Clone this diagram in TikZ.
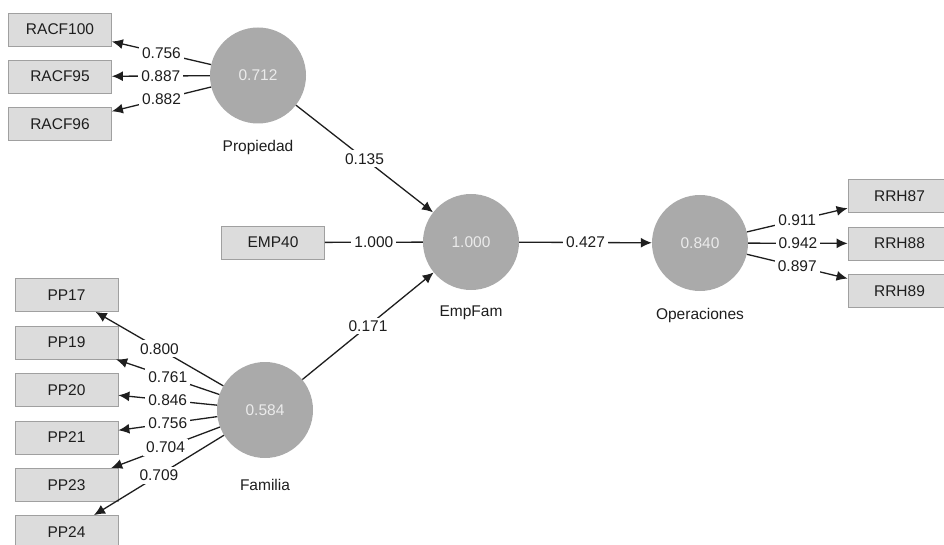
\documentclass[tikz,border=0pt]{standalone}
\usepackage{fontspec}
\setmainfont{Liberation Sans}
\usetikzlibrary{arrows.meta}

\definecolor{latentgray}{RGB}{170,170,170}
\definecolor{latenttext}{RGB}{235,235,235}
\definecolor{boxfill}{RGB}{220,220,220}
\definecolor{boxline}{RGB}{160,160,160}
\definecolor{inkgray}{RGB}{30,30,30}

\begin{document}
\begin{tikzpicture}[x=1pt,y=-1pt,
    every node/.style={font=\fontsize{15.5}{17}\selectfont, text=inkgray},
    indicator/.style={draw=boxline, fill=boxfill, line width=0.8pt, minimum width=103pt, minimum height=33pt, inner sep=0pt},
    latent/.style={circle, fill=latentgray, minimum size=96pt, inner sep=0pt, text=latenttext},
    link/.style={draw=inkgray, line width=1.3pt, -{Latex[length=11pt,width=10pt]}},
    coef/.style={fill=white, inner sep=3pt, pos=0.5}]
    \useasboundingbox (0,0) rectangle (944,545);

    % Indicators of Propiedad
    \node[indicator] (racf100) at (60,29.5) {RACF100};
    \node[indicator] (racf95) at (60,76.5) {RACF95};
    \node[indicator] (racf96) at (60,124) {RACF96};

    % Indicators of Familia
    \node[indicator] (pp17) at (66.5,295) {PP17};
    \node[indicator] (pp19) at (66.5,342.5) {PP19};
    \node[indicator] (pp20) at (66.5,390) {PP20};
    \node[indicator] (pp21) at (66.5,437.5) {PP21};
    \node[indicator] (pp23) at (66.5,485) {PP23};
    \node[indicator] (pp24) at (66.5,532) {PP24};

    % Other indicators
    \node[indicator] (emp40) at (273,242.5) {EMP40};
    \node[indicator] (rrh87) at (899.5,196) {RRH87};
    \node[indicator] (rrh88) at (899.5,243.5) {RRH88};
    \node[indicator] (rrh89) at (899.5,291) {RRH89};

    % Latent variables
    \node[latent] (prop) at (258,75.5) {0.712};
    \node (propname) at (258,147) {Propiedad};
    \node[latent] (fam) at (265,410) {0.584};
    \node (famname) at (265,485) {Familia};
    \node[latent] (empfam) at (471,242) {1.000};
    \node (empfamname) at (471,313) {EmpFam};
    \node[latent] (oper) at (700,243) {0.840};
    \node (opername) at (700,315) {Operaciones};

    % Outer loadings
    \draw[link] (prop) -- node[coef] {0.756} (racf100);
    \draw[link] (prop) -- node[coef] {0.887} (racf95);
    \draw[link] (prop) -- node[coef] {0.882} (racf96);

    \draw[link] (fam) -- node[coef] {0.800} (pp17);
    \draw[link] (fam) -- node[coef] {0.761} (pp19);
    \draw[link] (fam) -- node[coef] {0.846} (pp20);
    \draw[link] (fam) -- node[coef] {0.756} (pp21);
    \draw[link] (fam) -- node[coef] {0.704} (pp23);
    \draw[link] (fam) -- node[coef] {0.709} (pp24);

    \draw[draw=inkgray, line width=1.3pt] (emp40) -- node[coef] {1.000} (empfam);

    \draw[link] (oper) -- node[coef] {0.911} (rrh87);
    \draw[link] (oper) -- node[coef] {0.942} (rrh88);
    \draw[link] (oper) -- node[coef] {0.897} (rrh89);

    % Path coefficients
    \draw[link] (prop) -- node[coef] {0.135} (empfam);
    \draw[link] (fam) -- node[coef] {0.171} (empfam);
    \draw[link] (empfam) -- node[coef] {0.427} (oper);

\end{tikzpicture}
\end{document}
